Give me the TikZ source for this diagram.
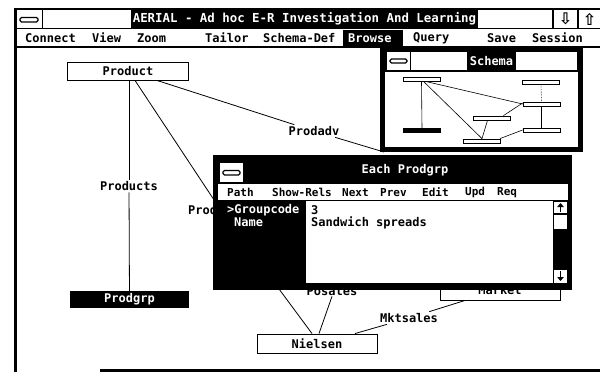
\documentclass[tikz,border=0pt]{standalone}
\usepackage{fontspec}
\usetikzlibrary{arrows.meta}
\newfontfamily\uimono{DejaVu Sans Mono}
\newfontfamily\uisym{DejaVu Sans}
\newcommand\uitext{\uimono\bfseries\fontsize{12}{14}\selectfont}
\newcommand\uismall{\uimono\bfseries\fontsize{11}{13}\selectfont}
\newcommand\uititle{\uimono\bfseries\fontsize{12.4}{14}\selectfont}
\tikzset{
  ent/.style={draw, fill=white, line width=0.9pt, inner sep=0pt, font=\uitext},
  entsel/.style={fill=black, text=white, inner sep=0pt, font=\uitext},
  rel/.style={fill=white, inner sep=1.5pt, font=\uitext},
  tag/.style={inner sep=0pt, font=\uitext},
  link/.style={line width=0.8pt},
  menuitem/.style={anchor=west, inner sep=0pt, font=\uitext},
  subitem/.style={anchor=west, inner sep=0pt, font=\uismall},
  wlabel/.style={text=white, inner sep=0pt, font=\uitext},
  panel/.style={fill=white},
  frame/.style={fill=black},
  mini/.style={draw, fill=white, line width=0.8pt, minimum width=37pt, minimum height=4pt, inner sep=0pt},
  minisel/.style={mini, fill=black},
  minilink/.style={line width=0.6pt},
  closebar/.style={draw, fill=white, line width=1.1pt, rounded corners=1.5pt},
  scrollarrow/.style={line width=1.6pt, -{Triangle[length=4pt,width=6.5pt]}},
  arrowglyph/.style={inner sep=0pt, font=\uisym\bfseries\fontsize{16}{17}\selectfont},
}
\begin{document}
\begin{tikzpicture}[x=1pt, y=-1pt]
\useasboundingbox (0,0) rectangle (600,372);
\fill[white] (0,0) rectangle (600,372);

% ---------- application frame ----------
\fill[frame] (14,8) rectangle (17,372);
\fill[frame] (100,369) rectangle (600,372);
% title bar
\fill[frame] (14,8) rectangle (600,29);
\fill[panel] (17,10) rectangle (42,28);
\draw[closebar] (20,17.5) rectangle (38,22);
\fill[panel] (43,10) rectangle (131,28);
\fill[panel] (478,10) rectangle (552,28);
\fill[panel] (554,10) rectangle (577,28);
\fill[panel] (579,10) rectangle (600,28);
\node[wlabel, font=\uititle] (apptitle) at (304.5,19) {AERIAL - Ad hoc E-R Investigation And Learning};
\node[arrowglyph] (scrolldown) at (565.5,19) {⇩};
\node[arrowglyph] (scrollup) at (589.5,19) {⇧};
% menu bar
\fill[panel] (17,30) rectangle (600,45.5);
\fill[frame] (17,45.5) rectangle (600,47.5);
\fill[frame] (343,30) rectangle (403,45.5);
\node[menuitem] (mconnect) at (25,38) {Connect};
\node[menuitem] (mview) at (92,38) {View};
\node[menuitem] (mzoom) at (137,38) {Zoom};
\node[menuitem] (mtailor) at (205,38) {Tailor};
\node[menuitem] (mschema) at (263,38) {Schema-Def};
\node[menuitem, text=white] (mbrowse) at (348,38) {Browse};
\node[menuitem] (mquery) at (413,38) {Query};
\node[menuitem] (msave) at (487,38) {Save};
\node[menuitem] (msession) at (532,38) {Session};

% ---------- E-R diagram ----------
\node[ent, minimum width=121pt, minimum height=18pt] (product) at (128,71) {Product};
\node[rel] (products) at (129,186) {Products};
\node[entsel, minimum width=119pt, minimum height=17pt] (prodgrp) at (129.5,299.5) {Prodgrp};
\node[tag, anchor=west] (prodsales) at (188,210.5) {Prod};
\coordinate (prodsalesmid) at (222,212);
\node[rel] (prodadv) at (314,131) {Prodadv};
\coordinate (advend) at (384,152);
\node[tag] (posales) at (332,291.5) {Posales};
\node[draw, line width=0.9pt, minimum width=120pt, minimum height=20pt, inner sep=0pt] (market) at (500,290) {};
\node[tag] (marketname) at (500,290) {Market};
\node[rel] (mktsales) at (409,318) {Mktsales};
\node[ent, minimum width=120pt, minimum height=19pt] (nielsen) at (317,343.5) {Nielsen};

\draw[link] (product.south -| products.north) -- (products);
\draw[link] (products) -- (prodgrp);
\draw[link] ([xshift=7pt]product.south) -- (prodsalesmid);
\draw[link] ([xshift=29pt]product.south) -- (prodadv);
\draw[link] (prodadv) -- (advend);
\draw[link] ([xshift=-5pt]nielsen.north) -- (prodsalesmid);
\draw[link] ([xshift=2pt]nielsen.north) -- (posales.south);
\draw[link] ([xshift=38pt]nielsen.north) -- (mktsales);
\draw[link] (mktsales) -- ([xshift=-35pt]market.south);

% ---------- Schema window ----------
\fill[frame] (380,47) rectangle (583,152);
\fill[panel] (387,52) rectangle (410,70);
\draw[closebar] (390,59) rectangle (407,63);
\fill[panel] (411,52) rectangle (467,70);
\fill[panel] (516,52) rectangle (577,70);
\node[wlabel] (schematitle) at (491.5,61) {Schema};
\fill[panel] (385,72) rectangle (578,147);
\node[mini] (sa) at (421.5,79) {};
\node[mini] (sb) at (541,82) {};
\node[mini] (sc) at (541.5,104) {};
\node[mini] (sd) at (491.5,118) {};
\node[mini] (se) at (541.5,130) {};
\node[minisel] (sf) at (422,130.5) {};
\node[mini] (sg) at (482,141) {};
\draw[minilink] (sa.south) -- (sf.north);
\draw[minilink] ([xshift=2pt]sa.south) -- (sg.north);
\draw[minilink] ([xshift=4pt]sa.south) -- (sc.west);
\draw[minilink, densely dotted] (sb.south) -- (sc.north);
\draw[minilink] (sc.south) -- (se.north);
\draw[minilink] ([yshift=1pt]sc.west) -- ([xshift=12pt]sd.north);
\draw[minilink] ([xshift=-4pt]sd.south) -- (sg.north);
\draw[minilink] ([xshift=18pt]sg.north) -- (se.west);

% ---------- Each Prodgrp window ----------
\fill[frame] (213,155) rectangle (572,290);
\fill[panel] (220,163) rectangle (243,182);
\draw[closebar] (223,170.5) rectangle (240,175);
\node[wlabel] (eachtitle) at (405,170.5) {Each Prodgrp};
\fill[panel] (218,184) rectangle (568,200);
\node[subitem] (ipath) at (227,192.5) {Path};
\node[subitem] (ishow) at (272,192.5) {Show-Rels};
\node[subitem] (inext) at (342,192.5) {Next};
\node[subitem] (iprev) at (380,192.5) {Prev};
\node[subitem] (iedit) at (422,192.5) {Edit};
\node[subitem] (iupd) at (465,192.5) {Upd};
\node[subitem] (ireq) at (497,192.5) {Req};
\fill[panel] (306,201) rectangle (553,283);
\fill[panel] (554,202) rectangle (567,213);
\fill[panel] (554,214.5) rectangle (567,229);
\fill[panel] (554,270) rectangle (567,283);
\draw[scrollarrow] (560.5,212) -- (560.5,203);
\draw[scrollarrow] (560.5,271) -- (560.5,281);
\node[menuitem, text=white] (fgroup) at (227,210) {>Groupcode};
\node[menuitem, text=white] (fname) at (234,222.5) {Name};
\node[menuitem] (vgroup) at (311,210) {3};
\node[menuitem] (vname) at (311,222.5) {Sandwich spreads};
\end{tikzpicture}
\end{document}
